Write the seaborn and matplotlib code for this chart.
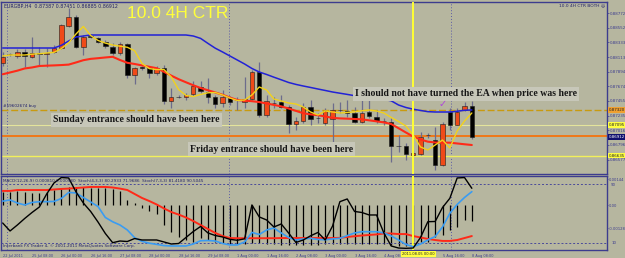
import numpy as np
import pandas as pd
import matplotlib
matplotlib.use("Agg")
import matplotlib.pyplot as plt
import seaborn as sns

sns.set_style("white")
plt.rcParams['font.family'] = ['DejaVu Sans']

# ---------------- data (EURGBP H4) ----------------
opens = [0.88021, 0.88160, 0.88130, 0.88195, 0.88111, 0.88180, 0.88156, 0.88195, 0.88246, 0.88585,
         0.88720, 0.88261, 0.88435, 0.88396, 0.88345, 0.88270, 0.88180, 0.88306, 0.87845, 0.87958,
         0.87946, 0.87880, 0.87946, 0.87455, 0.87518, 0.87511, 0.87560, 0.87670, 0.87586, 0.87511,
         0.87430, 0.87496, 0.87470, 0.87445, 0.87480, 0.87895, 0.87245, 0.87430, 0.87445, 0.87370,
         0.87110, 0.87155, 0.87370, 0.87199, 0.87120, 0.87180, 0.87320, 0.87310, 0.87271, 0.87145,
         0.87286, 0.87220, 0.87158, 0.87145, 0.86783, 0.86780, 0.86645, 0.86656, 0.86945, 0.86870,
         0.86495, 0.87295, 0.87095, 0.87320, 0.87387]
highs = [0.88195, 0.88180, 0.88231, 0.88231, 0.88420, 0.88270, 0.88246, 0.88295, 0.88610, 0.88850,
         0.88745, 0.88445, 0.88460, 0.88420, 0.88370, 0.88321, 0.88345, 0.88321, 0.87970, 0.87980,
         0.87980, 0.87980, 0.87995, 0.87646, 0.87545, 0.87571, 0.87760, 0.87760, 0.87796, 0.87545,
         0.87620, 0.87530, 0.87520, 0.87820, 0.87920, 0.88045, 0.87545, 0.87515, 0.87545, 0.87395,
         0.87220, 0.87420, 0.87470, 0.87271, 0.87346, 0.87420, 0.87445, 0.87470, 0.87370, 0.87470,
         0.87496, 0.87320, 0.87196, 0.87196, 0.86945, 0.86820, 0.86720, 0.86995, 0.86970, 0.87070,
         0.87145, 0.87346, 0.87346, 0.87445, 0.87451]
lows = [0.87980, 0.88130, 0.88096, 0.87970, 0.88096, 0.87995, 0.87970, 0.88170, 0.88231, 0.88570,
        0.88246, 0.88145, 0.88393, 0.88321, 0.88246, 0.88145, 0.88145, 0.87796, 0.87710, 0.87920,
        0.87796, 0.87845, 0.87410, 0.87346, 0.87496, 0.87470, 0.87530, 0.87571, 0.87420, 0.87346,
        0.87361, 0.87395, 0.87320, 0.87350, 0.87470, 0.87220, 0.87220, 0.87350, 0.87346, 0.86970,
        0.87020, 0.87120, 0.87095, 0.87120, 0.87095, 0.86795, 0.87271, 0.87220, 0.87120, 0.87120,
        0.87196, 0.87120, 0.87095, 0.86545, 0.86695, 0.86570, 0.86630, 0.86645, 0.86900, 0.86420,
        0.86480, 0.87020, 0.87095, 0.87310, 0.86885]
closes = [0.88120, 0.88153, 0.88195, 0.88130, 0.88180, 0.88156, 0.88180, 0.88255, 0.88595, 0.88720,
          0.88261, 0.88420, 0.88411, 0.88345, 0.88280, 0.88180, 0.88306, 0.87845, 0.87955, 0.87952,
          0.87880, 0.87946, 0.87460, 0.87520, 0.87512, 0.87545, 0.87680, 0.87605, 0.87511, 0.87410,
          0.87511, 0.87445, 0.87466, 0.87485, 0.87895, 0.87245, 0.87460, 0.87425, 0.87370, 0.87110,
          0.87155, 0.87370, 0.87180, 0.87193, 0.87310, 0.87320, 0.87316, 0.87280, 0.87145, 0.87271,
          0.87230, 0.87160, 0.87152, 0.86780, 0.86777, 0.86656, 0.86675, 0.86920, 0.86940, 0.86495,
          0.87110, 0.87095, 0.87295, 0.87380, 0.86912]

ma_blue = [0.8825, 0.8825, 0.8825, 0.8825, 0.8825, 0.8825, 0.8825, 0.8825, 0.8829, 0.88355,
           0.88415, 0.8843, 0.88445, 0.88445, 0.88445, 0.88445, 0.88445, 0.88445, 0.88445, 0.88445,
           0.88445, 0.88445, 0.88445, 0.88445, 0.88445, 0.88445, 0.8843, 0.88394, 0.88319, 0.88247,
           0.8819, 0.8813, 0.8807, 0.8801, 0.87943, 0.8789, 0.87853, 0.87812, 0.87773, 0.87733,
           0.87704, 0.8768, 0.87658, 0.87635, 0.87613, 0.8759, 0.87572, 0.87554, 0.87535, 0.87518,
           0.87505, 0.87493, 0.87479, 0.87458, 0.87395, 0.87358, 0.87332, 0.87313, 0.87295, 0.8729,
           0.8729, 0.8729, 0.87301, 0.87316, 0.8732]
ma_red = [0.87856, 0.87883, 0.8791, 0.87943, 0.87958, 0.8798, 0.87985, 0.87989, 0.87994, 0.88001,
          0.88033, 0.88067, 0.88087, 0.88097, 0.88108, 0.88118, 0.8807, 0.88028, 0.8801, 0.87989,
          0.87968, 0.87947, 0.87893, 0.87835, 0.87782, 0.87736, 0.87691, 0.8765, 0.87616, 0.87583,
          0.87548, 0.87506, 0.8747, 0.87461, 0.87452, 0.87439, 0.87418, 0.87397, 0.87374, 0.87343,
          0.87307, 0.87272, 0.87254, 0.87242, 0.87223, 0.87202, 0.87194, 0.8719, 0.87185, 0.8718,
          0.87165, 0.8715, 0.87134, 0.8711, 0.87047, 0.86983, 0.86921, 0.86878, 0.86845, 0.86833,
          0.8683, 0.8683, 0.86818, 0.86806, 0.86795]
ma_yellow = [0.8813, 0.88145, 0.88145, 0.88145, 0.88157, 0.88164, 0.88175, 0.88185, 0.88241, 0.88328,
             0.8846, 0.88573, 0.88438, 0.88363, 0.88324, 0.88295, 0.88277, 0.88261, 0.88208, 0.88018,
             0.87941, 0.87926, 0.87928, 0.87815, 0.87625, 0.87539, 0.87521, 0.87553, 0.87578, 0.87583,
             0.87545, 0.875, 0.87463, 0.8747, 0.87545, 0.87665, 0.8762, 0.87485, 0.87455, 0.87425,
             0.8741, 0.87365, 0.8729, 0.87245, 0.87305, 0.8729, 0.87275, 0.87283, 0.87293, 0.87308,
             0.8732, 0.87305, 0.87275, 0.87208, 0.87148, 0.8708, 0.86945, 0.86765, 0.8672, 0.86795,
             0.8687, 0.8675, 0.87005, 0.87155, 0.87275]

macd_hist = [0.00072, 0.00072, 0.00078, 0.00072, 0.00066, 0.00066, 0.00072, 0.00083, 0.00089, 0.00100,
             0.00100, 0.00100, 0.00094, 0.00094, 0.00094, 0.00089, 0.00078, 0.00028, 0.00011, -0.00017,
             -0.00033, -0.00050, -0.00111, -0.00150, -0.00177, -0.00194, -0.00205, -0.00183, -0.00194, -0.00205,
             -0.00211, -0.00216, -0.00216, -0.00216, -0.00211, -0.00211, -0.00216, -0.00216, -0.00222, -0.00222,
             -0.00222, -0.00222, -0.00222, -0.00222, -0.00216, -0.00216, -0.00216, -0.00216, -0.00216, -0.00216,
             -0.00216, -0.00216, -0.00216, -0.00222, -0.00227, -0.00227, -0.00222, -0.00205, -0.00205, -0.00177,
             -0.00166, -0.00139, -0.00122, -0.00083, -0.00089]
macd_signal = [0.00078, 0.00078, 0.00083, 0.00083, 0.00083, 0.00083, 0.00083, 0.00086, 0.00089, 0.00091,
               0.00094, 0.00097, 0.00100, 0.00100, 0.00100, 0.00097, 0.00091, 0.00083, 0.00061, 0.00039,
               0.00022, 0.00003, -0.00019, -0.00039, -0.00053, -0.00069, -0.00089, -0.00111, -0.00133, -0.00155,
               -0.00172, -0.00183, -0.00184, -0.00184, -0.00184, -0.00184, -0.00184, -0.00184, -0.00183, -0.00183,
               -0.00183, -0.00183, -0.00183, -0.00183, -0.00183, -0.00183, -0.00182, -0.00177, -0.00173, -0.00169,
               -0.00166, -0.00163, -0.00158, -0.00158, -0.00161, -0.00161, -0.00172, -0.00180, -0.00188, -0.00194,
               -0.00199, -0.00199, -0.00194, -0.00183, -0.00172]
stoch_slow = [67.2, 68.8, 64.7, 62.0, 65.4, 66.5, 66.5, 66.8, 70.9, 79.1,
              78.4, 72.2, 66.1, 59.9, 44.9, 39.0, 34.6, 27.8, 17.2, 12.3,
              9.7, 8.1, 6.4, 5.9, 5.9, 5.9, 8.6, 13.1, 13.4, 12.7,
              9.3, 7.3, 7.3, 11.4, 24.4, 21.6, 27.8, 30.5, 23.7, 17.5,
              14.1, 15.5, 16.4, 14.8, 14.4, 15.5, 16.4, 20.0, 23.7, 25.4,
              25.4, 25.4, 23.7, 19.6, 14.1, 7.9, 4.9, 8.6, 14.1, 18.9,
              31.9, 50.6, 62.7, 72.2, 80.2]
stoch_fast = [37.3, 26.4, 34.6, 43.5, 51.7, 59.2, 77.0, 92.1, 99.5, 98.9,
              79.8, 64.7, 53.1, 38.7, 23.0, 10.4, 12.7, 12.0, 16.1, 14.1,
              14.1, 14.1, 11.4, 8.6, 9.3, 17.5, 25.7, 32.6, 23.7, 20.2,
              18.2, 15.0, 13.7, 15.7, 62.0, 45.6, 41.5, 31.9, 36.0, 23.7,
              10.7, 14.1, 19.8, 24.4, 14.1, 33.2, 66.5, 70.2, 53.1, 51.7,
              48.3, 48.3, 23.7, 5.9, 3.1, 2.7, 3.1, 17.5, 39.1, 39.4,
              58.5, 71.1, 98.9, 99.5, 84.8]

time_label_bars = [0, 4, 8, 12, 16, 20, 24, 28, 32, 36, 40, 44, 48, 52, 56, 60, 64]
time_labels = ["22 Jul 2011", "25 Jul 08:00", "26 Jul 00:00", "26 Jul 16:00", "27 Jul 08:00",
               "28 Jul 00:00", "28 Jul 16:00", "29 Jul 08:00", "1 Aug 00:00", "1 Aug 16:00",
               "2 Aug 08:00", "3 Aug 00:00", "3 Aug 16:00", "4 Aug 08:00", "5 Aug 00:00",
               "5 Aug 16:00", "8 Aug 08:00"]
marker_bar = 56
marker_label = "2011.08.05 00:00"

price_ticks = [0.88772, 0.88552, 0.88333, 0.88113, 0.87894, 0.87674, 0.87455,
               0.87235, 0.87016, 0.86796, 0.86577]
level_dashed = 0.87320
level_pale = 0.87095
level_orange = 0.86925
level_yellow = 0.86635
bid = 0.86912
macd_ticks = [0.00144, 0.0, -0.00128]
macd_tick_labels = ["0.00144", "0.00", "-0.00128"]
stoch_levels = [90, 10]

# ---------------- styling ----------------
BG = '#b6b69f'
NAVY = '#3c3c8e'
W, H = 625, 258
TICK_FS = 2.9

df = pd.DataFrame({
    'bar': np.arange(len(opens)), 'open': opens, 'high': highs, 'low': lows, 'close': closes,
    'ma_blue': ma_blue, 'ma_red': ma_red, 'ma_yellow': ma_yellow,
    'macd_hist': macd_hist, 'macd_signal': macd_signal,
    'stoch_slow': stoch_slow, 'stoch_fast': stoch_fast,
})

fig = plt.figure(figsize=(W / 100, H / 100), dpi=100)
fig.patch.set_facecolor(BG)

def frac(x0, y0, x1, y1):
    return [x0 / W, 1 - y1 / H, (x1 - x0) / W, (y1 - y0) / H]

ax = fig.add_axes(frac(1, 2, 607, 174))
axl = fig.add_axes(frac(1, 176, 607, 250))
axs = axl.twinx()
XL = (-0.232, 82.44)

for a in (ax, axl):
    a.set_facecolor(BG)
    a.set_xlim(*XL)
    for s in a.spines.values():
        s.set_color(NAVY)
        s.set_linewidth(1.0)
    for gx in (0.6, 30.9, 61.2):
        a.axvline(gx, color='#5a5aa6', lw=0.7, ls=(0, (1, 2)), zorder=1)

# ---- main price panel ----
ax.set_ylim(0.8636, 0.8894)
ax.axhline(level_dashed, color='#c89a10', lw=1.0, ls=(0, (5, 2)), zorder=2)
ax.axhline(level_pale, color='#e4e49c', lw=0.8, zorder=2)
ax.axhline(level_orange, color='#f07818', lw=1.4, zorder=2)
ax.axhline(level_yellow, color='#f2f05a', lw=1.0, zorder=2)

bull = df['close'] >= df['open']
body_lo = np.minimum(df['open'], df['close'])
body_h = np.maximum((df['close'] - df['open']).abs(), 0.00002)
ax.vlines(df['bar'], df['low'], df['high'], color='#6c6c8c', lw=0.9, zorder=3)
ax.bar(df['bar'], body_h, bottom=body_lo, width=0.6,
       color=np.where(bull, '#f04a18', '#000000'), edgecolor='#1c1c1c', linewidth=0.4, zorder=4)

sns.lineplot(data=df, x='bar', y='ma_blue', ax=ax, color='#2222d6', lw=1.1, zorder=5)
sns.lineplot(data=df, x='bar', y='ma_red', ax=ax, color='#ff2a18', lw=1.5, zorder=5)
sns.lineplot(data=df, x='bar', y='ma_yellow', ax=ax, color='#f2d21c', lw=1.0, zorder=6)
ax.axvline(marker_bar, color='#ffff33', lw=1.4, zorder=7)

ax.set_xlabel('')
ax.set_ylabel('')
ax.set_xticks([])
ax.yaxis.tick_right()
ax.set_yticks(price_ticks)
ax.set_yticklabels([f"{v:.5f}" for v in price_ticks])
ax.tick_params(axis='y', labelsize=TICK_FS, colors=NAVY, length=1.5, width=0.5, pad=0.6)

ytr = ax.get_yaxis_transform()
for val, fc, tc in ((level_dashed, '#f0a030', '#202020'), (level_pale, '#ffff40', '#202020'),
                    (bid, '#10106e', '#ffffff'), (level_yellow, '#ffff40', '#202020')):
    ax.text(1.0035, val, f"{val:.5f}", transform=ytr, ha='left', va='center', fontsize=TICK_FS,
            color=tc, bbox=dict(boxstyle='square,pad=0.2', fc=fc, ec='none'), zorder=10, clip_on=False)

serif = dict(family=['Liberation Serif', 'DejaVu Serif'], weight='bold', fontsize=7.0, color='#161616')
box = dict(boxstyle='square,pad=0.22', fc='#c7c7b9', ec='none')
ax.text(6.86, 0.8717, "Sunday entrance should have been here", ha='left', va='center', bbox=box, zorder=9, **serif)
ax.text(25.55, 0.86735, "Friday entrance should have been here", ha='left', va='center', bbox=box, zorder=9, **serif)
ax.text(48.07, 0.8756, "I should not have turned the EA when price was here", ha='left', va='center', bbox=box, zorder=9, **serif)
ax.text(59.95, 0.8741, "\u2713", ha='center', va='center', fontsize=7, color='#b040e0', zorder=9)
ax.text(16.96, 0.8876, "10.0 4H CTR", ha='left', va='center', fontsize=12.5,
        family=['Liberation Sans', 'DejaVu Sans'], color='#ffff3a', zorder=9)

# ---- lower indicator panel: MACD ----
axl.set_ylim(-0.002493, 0.001607)
axl.vlines(df['bar'], 0, df['macd_hist'], color='#000000', lw=0.9, zorder=3)
sns.lineplot(data=df, x='bar', y='macd_signal', ax=axl, color='#ff2a18', lw=1.4, zorder=4)
axl.set_xlabel('')
axl.set_ylabel('')
axl.yaxis.tick_right()
axl.yaxis.set_label_position('right')
axl.set_yticks(macd_ticks)
axl.set_yticklabels(macd_tick_labels)
axl.tick_params(axis='y', which='both', left=False, labelleft=False, right=True, labelright=True,
                labelsize=2.7, colors=NAVY, length=1.0, width=0.5, pad=0.4)
axl.set_xticks(time_label_bars)
axl.set_xticklabels(['' if b == marker_bar else t for b, t in zip(time_label_bars, time_labels)], ha='left')
axl.tick_params(axis='x', labelsize=2.5, colors=NAVY, length=2, width=0.5, pad=1.0)
axl.axvline(marker_bar, color='#ffff33', lw=1.4, zorder=7)

# ---- lower indicator panel: stochastics ----
axs.set_ylim(0.4, 101.6)
axs.set_xlim(*XL)
for s in axs.spines.values():
    s.set_visible(False)
for lv in stoch_levels:
    axs.axhline(lv, color='#4a4a9a', lw=0.7, ls=(0, (2, 2)), zorder=2)
sns.lineplot(data=df, x='bar', y='stoch_slow', ax=axs, color='#3a9cf2', lw=1.2, zorder=5)
sns.lineplot(data=df, x='bar', y='stoch_fast', ax=axs, color='#000000', lw=1.0, zorder=6)
axs.set_xlabel('')
axs.set_ylabel('')
axs.set_yticks(stoch_levels)
axs.set_yticklabels([str(v) for v in stoch_levels])
axs.tick_params(axis='y', labelsize=TICK_FS, colors=NAVY, length=0, pad=3)

# ---- small header texts ----
def ftext(x, y, s, **kw):
    fig.text(x / W, 1 - y / H, s, **kw)

ftext(4, 6, "EURGBP,H4  0.87387 0.87451 0.86885 0.86912", fontsize=3.4, color='#22226a', va='center')
ftext(605, 5.5, "10.0 4H CTR BOTH \u263a", fontsize=3.2, color='#22226a', va='center', ha='right')
ftext(3, 106, "#59602674 buy", fontsize=3.0, color='#22226a', va='center')
ftext(3, 181.5, "MACD(12,26,9) 0.000810 0.000580  Stoch(4,3,3) 80.2933 71.9686  Stoch(7,3,3) 81.4180 90.5045",
      fontsize=3.0, color='#22226a', va='center')
ftext(3, 246.5, "Interbank FX Trader 4, \u00a9 2001-2011 MetaQuotes Software Corp.", fontsize=3.0,
      color='#22226a', va='center')
ftext(418.5, 254, marker_label, fontsize=2.6, color='#202020', va='center', ha='center',
      bbox=dict(boxstyle='square,pad=0.22', fc='#ffff40', ec='none'))

fig.savefig('out.png', dpi=100, facecolor=BG)
